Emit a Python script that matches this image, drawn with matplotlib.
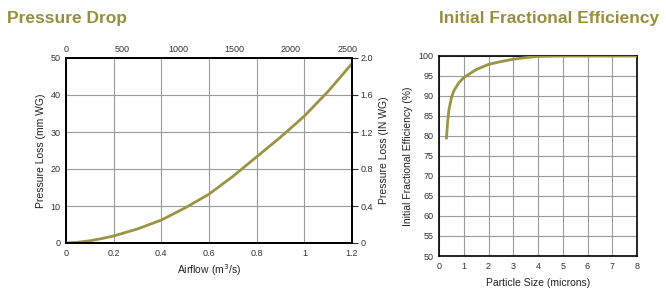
import matplotlib
matplotlib.use("Agg")
import matplotlib.pyplot as plt

plt.rcParams['font.family'] = ['Liberation Sans', 'DejaVu Sans']

# Pressure drop data
airflow = [0, 0.05, 0.1, 0.15, 0.2, 0.3, 0.4, 0.5, 0.6, 0.7, 0.8, 0.9, 1.0, 1.1, 1.2]
pressure_mm = [0, 0.2, 0.6, 1.2, 1.9, 3.8, 6.2, 9.5, 13.2, 18.0, 23.3, 28.6, 34.3, 41.0, 48.5]
airflow_ticks = [0, 0.2, 0.4, 0.6, 0.8, 1.0, 1.2]
airflow_labels = ["0", "0.2", "0.4", "0.6", "0.8", "1", "1.2"]
cfm_ticks = [0, 500, 1000, 1500, 2000, 2500]
mm_ticks = [0, 10, 20, 30, 40, 50]
in_ticks = [0, 0.4, 0.8, 1.2, 1.6, 2.0]
in_labels = ["0", "0.4", "0.8", "1.2", "1.6", "2.0"]

# Efficiency data
particle = [0.3, 0.35, 0.4, 0.5, 0.6, 0.8, 1.0, 1.2, 1.5, 2.0, 2.5, 3.0, 3.5, 4.0, 5.0, 6.0, 7.0, 8.0]
efficiency = [79.5, 83.5, 86.5, 89.5, 91.3, 93.3, 94.6, 95.4, 96.6, 97.9, 98.6, 99.2, 99.6, 99.9, 100, 100, 100, 100]
size_ticks = [0, 1, 2, 3, 4, 5, 6, 7, 8]
eff_ticks = [50, 55, 60, 65, 70, 75, 80, 85, 90, 95, 100]

olive = '#988f3c'
line_c = '#9a9444'
grid_c = '#9a9a9a'
tick_fs = 6.5
lab_fs = 7.5

fig = plt.figure(figsize=(6.66, 2.98), dpi=100)

# Left chart
ax = fig.add_axes([66/666, 55/298, 286/666, 185/298])
ax.plot(airflow, pressure_mm, color=line_c, lw=2.0, solid_capstyle='butt', zorder=3)
ax.set_xlim(0, 1.2)
ax.set_ylim(0, 50)
ax.set_xticks(airflow_ticks)
ax.set_xticklabels(airflow_labels)
ax.set_yticks(mm_ticks)
ax.grid(True, color=grid_c, lw=0.8)
ax.tick_params(labelsize=tick_fs, length=0, pad=4, colors='#333333')
ax.set_xlabel("Airflow (m$^3$/s)", fontsize=lab_fs, labelpad=3, color='#222222')
ax.set_ylabel("Pressure Loss (mm WG)", fontsize=lab_fs, labelpad=3, color='#222222')
for s in ax.spines.values():
    s.set_linewidth(1.2)
    s.set_color('black')

axt = ax.twiny()
axt.set_xlim(0, 1.2 * 2118.88)
axt.set_xticks(cfm_ticks)
axt.tick_params(labelsize=tick_fs, length=0, pad=3, colors='#333333')

axr = ax.twinx()
axr.set_ylim(0, 2.0)
axr.set_yticks(in_ticks)
axr.set_yticklabels(in_labels)
axr.tick_params(labelsize=tick_fs, length=4, width=0.8, pad=2, colors='#333333')
axr.set_ylabel("Pressure Loss (IN WG)", fontsize=lab_fs, labelpad=4, color='#222222')
for s in list(axt.spines.values()) + list(axr.spines.values()):
    s.set_linewidth(1.2)

fig.text(7/666, 1 - 18/298, "Pressure Drop", fontsize=12.5, fontweight='bold',
         color=olive, va='center', ha='left')

# Right chart
ax2 = fig.add_axes([439/666, 42/298, 198/666, 200/298])
ax2.plot(particle, efficiency, color=line_c, lw=2.0, zorder=3)
ax2.set_xlim(0, 8)
ax2.set_ylim(50, 100)
ax2.set_xticks(size_ticks)
ax2.set_yticks(eff_ticks)
ax2.grid(True, color=grid_c, lw=0.8)
ax2.tick_params(labelsize=tick_fs, length=0, pad=4, colors='#333333')
ax2.set_xlabel("Particle Size (microns)", fontsize=lab_fs, labelpad=5, color='#222222')
ax2.set_ylabel("Initial Fractional Efficiency (%)", fontsize=lab_fs, labelpad=4, color='#222222')
for s in ax2.spines.values():
    s.set_linewidth(1.2)
    s.set_color('black')

fig.text(439/666, 1 - 19/298, "Initial Fractional Efficiency", fontsize=12.5,
         fontweight='bold', color=olive, va='center', ha='left')

fig.savefig("out.png", dpi=100)
